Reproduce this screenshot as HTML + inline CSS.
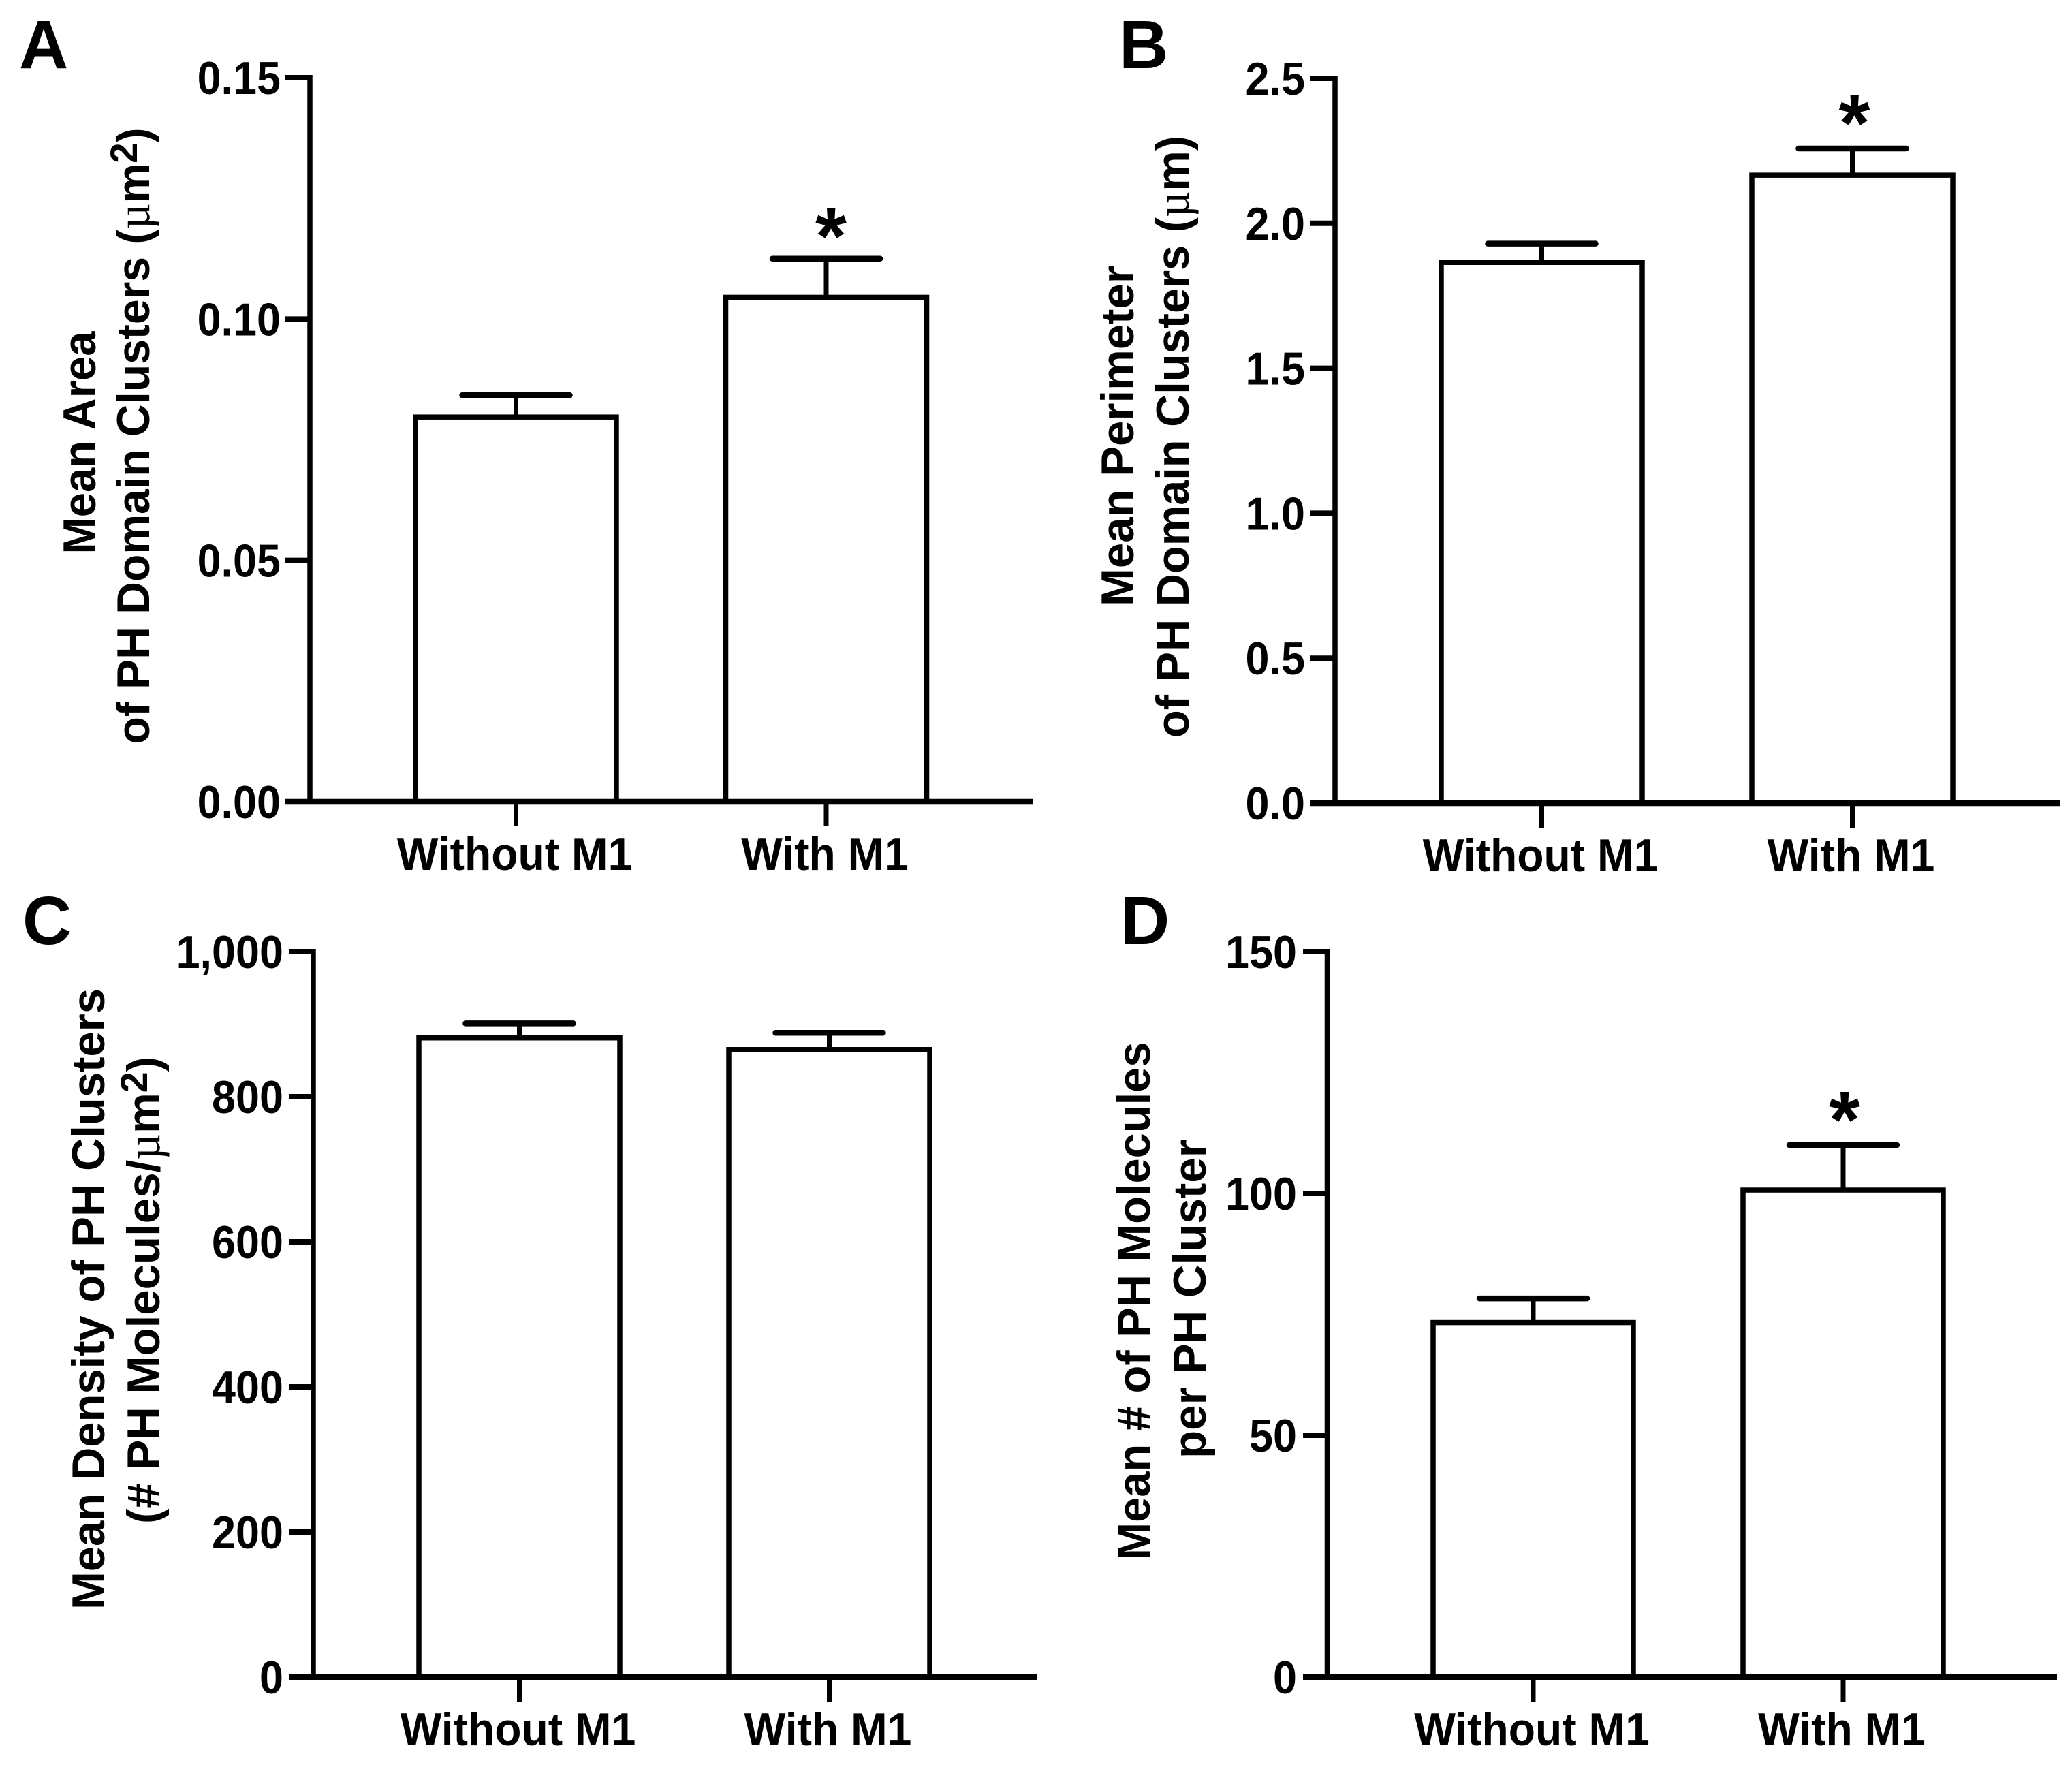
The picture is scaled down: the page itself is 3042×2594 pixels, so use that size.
<!DOCTYPE html>
<html>
<head>
<meta charset="utf-8">
<title>PH domain cluster bar charts</title>
<style>
html,body{margin:0;padding:0;background:#fff;}
svg{display:block;}
text{font-family:"Liberation Sans",sans-serif;font-weight:700;fill:#000;}
.mu{font-family:"Liberation Serif",serif;font-weight:400;}
</style>
</head>
<body>
<svg id="figure" xmlns="http://www.w3.org/2000/svg" width="3042" height="2594" viewBox="0 0 3042 2594">
<rect x="0" y="0" width="3042" height="2594" fill="#fff"/>
<text x="28" y="100" font-size="100">A</text>
<text x="1643" y="100" font-size="100">B</text>
<text x="33" y="1386" font-size="100">C</text>
<text x="1645" y="1386" font-size="100">D</text>

<text transform="rotate(-90 140 650)" x="140" y="650" text-anchor="middle" font-size="68" textLength="327" lengthAdjust="spacingAndGlyphs">Mean Area</text>
<text transform="rotate(-90 219 640)" x="219" y="640" text-anchor="middle" font-size="68" textLength="905" lengthAdjust="spacingAndGlyphs">of PH Domain Clusters (<tspan class="mu">µ</tspan>m<tspan dy="-18" font-size="56">2</tspan><tspan dy="18">)</tspan></text>

<text transform="rotate(-90 1664 640)" x="1664" y="640" text-anchor="middle" font-size="68" textLength="500" lengthAdjust="spacingAndGlyphs">Mean Perimeter</text>
<text transform="rotate(-90 1745 641)" x="1745" y="641" text-anchor="middle" font-size="68" textLength="884" lengthAdjust="spacingAndGlyphs">of PH Domain Clusters (<tspan class="mu">µ</tspan>m)</text>

<text transform="rotate(-90 153 1907)" x="153" y="1907" text-anchor="middle" font-size="68" textLength="912" lengthAdjust="spacingAndGlyphs">Mean Density of PH Clusters</text>
<text transform="rotate(-90 234 1894)" x="234" y="1894" text-anchor="middle" font-size="68" textLength="686" lengthAdjust="spacingAndGlyphs">(# PH Molecules/<tspan class="mu">µ</tspan>m<tspan dy="-18" font-size="56">2</tspan><tspan dy="18">)</tspan></text>

<text transform="rotate(-90 1688 1910)" x="1688" y="1910" text-anchor="middle" font-size="68" textLength="761" lengthAdjust="spacingAndGlyphs">Mean # of PH Molecules</text>
<text transform="rotate(-90 1770 1907)" x="1770" y="1907" text-anchor="middle" font-size="68" textLength="468" lengthAdjust="spacingAndGlyphs">per PH Cluster</text>
</svg>
<script>
var categories = ["Without M1", "With M1"];

var panelAMeans = [0.0797, 0.1045];
var panelAUpper = [0.0842, 0.1125];
var panelASignificant = [false, true];
var panelATicks = [0, 0.05, 0.10, 0.15];
var panelATickLabels = ["0.00", "0.05", "0.10", "0.15"];

var panelBMeans = [1.865, 2.166];
var panelBUpper = [1.93, 2.258];
var panelBSignificant = [false, true];
var panelBTicks = [0, 0.5, 1, 1.5, 2, 2.5];
var panelBTickLabels = ["0.0", "0.5", "1.0", "1.5", "2.0", "2.5"];

var panelCMeans = [881, 865];
var panelCUpper = [901, 888];
var panelCSignificant = [false, false];
var panelCTicks = [0, 200, 400, 600, 800, 1000];
var panelCTickLabels = ["0", "200", "400", "600", "800", "1,000"];

var panelDMeans = [73.3, 100.7];
var panelDUpper = [78.3, 110];
var panelDSignificant = [false, true];
var panelDTicks = [0, 50, 100, 150];
var panelDTickLabels = ["0", "50", "100", "150"];

var svg = document.getElementById('figure');
var NS = 'http://www.w3.org/2000/svg';

function draw(tag, attrs, parent) {
  var el = document.createElementNS(NS, tag);
  for (var k in attrs) el.setAttribute(k, attrs[k]);
  parent.appendChild(el);
  return el;
}

function drawPanel(id, geo, means, upper, significant, ticks, tickLabels) {
  var yMax = ticks[ticks.length - 1];
  function yScale(v) { return geo.y0 - (v / yMax) * (geo.y0 - geo.yTop); }
  function xScale(i) { return geo.x0 + i * geo.step; }
  var sw = 7.5;

  var g = draw('g', {}, svg);
  
  

  means.forEach(function (m, i) {
    var cx = xScale(i);
    var errLine = draw('line', {x1: cx, x2: cx, y1: yScale(m), y2: yScale(upper[i]), stroke: '#000', 'stroke-width': 7}, g);
    
    
    var cap = draw('line', {x1: cx - geo.cap, x2: cx + geo.cap, y1: yScale(upper[i]), y2: yScale(upper[i]), stroke: '#000', 'stroke-width': 8.5, 'stroke-linecap': 'round'}, g);
    
    
    var bar = draw('rect', {x: cx - geo.half, y: yScale(m), width: geo.half * 2, height: geo.y0 - yScale(m), fill: '#fff', stroke: '#000', 'stroke-width': sw}, g);
    
    
    if (significant[i]) {
      var star = draw('text', {x: cx + geo.starDx, y: yScale(upper[i]) - geo.starGap, 'text-anchor': 'middle', 'font-size': 118}, g);
      star.textContent = '*';
      
      
    }
  });

  var yAxis = draw('line', {x1: geo.axisX, x2: geo.axisX, y1: geo.yTop - 4, y2: geo.y0 + 4, stroke: '#000', 'stroke-width': sw}, g);
  
  
  var xAxis = draw('line', {x1: geo.tickLeft, x2: geo.xEnd, y1: geo.y0, y2: geo.y0, stroke: '#000', 'stroke-width': 8.5}, g);
  
  

  ticks.forEach(function (t, i) {
    var y = yScale(t);
    var tick = draw('line', {x1: geo.tickLeft, x2: geo.axisX, y1: y, y2: y, stroke: '#000', 'stroke-width': 8}, g);
    
    
    var label = draw('text', {x: geo.labelRight, y: y + 24, 'text-anchor': 'end', 'font-size': 68}, g);
    label.textContent = tickLabels[i];
    
    
    label.setAttribute('textLength', label.getComputedTextLength() * 0.925);
    label.setAttribute('lengthAdjust', 'spacingAndGlyphs');
  });

  categories.forEach(function (c, i) {
    var cx = xScale(i);
    var tick = draw('line', {x1: cx, x2: cx, y1: geo.y0, y2: geo.y0 + 36, stroke: '#000', 'stroke-width': 7}, g);
    
    
    var label = draw('text', {x: cx - 2, y: geo.y0 + 100, 'text-anchor': 'middle', 'font-size': 68}, g);
    label.textContent = c;
    
    
    label.setAttribute('textLength', label.getComputedTextLength() * 0.945);
    label.setAttribute('lengthAdjust', 'spacingAndGlyphs');
  });
}

drawPanel('a', {axisX: 455, y0: 1177, yTop: 114, xEnd: 1517, tickLeft: 418, x0: 757.5, step: 455.5, half: 147.5, cap: 79, labelRight: 412, starDx: 7, starGap: -7},
  panelAMeans, panelAUpper, panelASignificant, panelATicks, panelATickLabels);
drawPanel('b', {axisX: 1960, y0: 1179, yTop: 115, xEnd: 3024, tickLeft: 1924, x0: 2263.5, step: 456, half: 147.5, cap: 79, labelRight: 1916, starDx: 3, starGap: -3},
  panelBMeans, panelBUpper, panelBSignificant, panelBTicks, panelBTickLabels);
drawPanel('c', {axisX: 460, y0: 2462, yTop: 1397, xEnd: 1523, tickLeft: 424, x0: 762.5, step: 455, half: 147.5, cap: 79, labelRight: 416, starDx: 0, starGap: -3},
  panelCMeans, panelCUpper, panelCSignificant, panelCTicks, panelCTickLabels);
drawPanel('d', {axisX: 1948.5, y0: 2462, yTop: 1397, xEnd: 3020, tickLeft: 1913, x0: 2251, step: 455, half: 147, cap: 79, labelRight: 1904, starDx: 2, starGap: -3},
  panelDMeans, panelDUpper, panelDSignificant, panelDTicks, panelDTickLabels);
</script>
</body>
</html>
